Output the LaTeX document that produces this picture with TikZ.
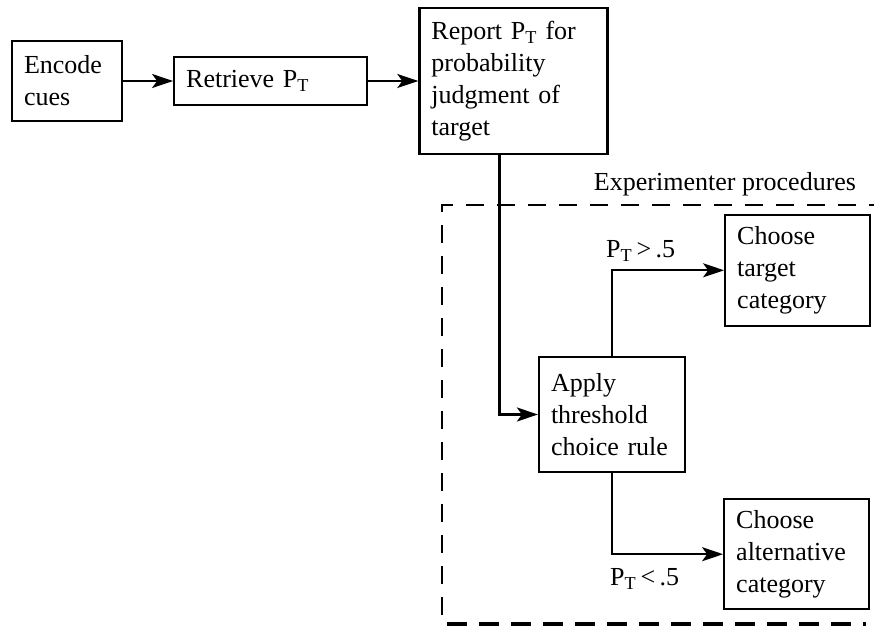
\documentclass[tikz,border=0pt]{standalone}
\usepackage{fontspec}
\setmainfont{Liberation Serif}
\usetikzlibrary{arrows.meta,positioning}
\tikzset{
    %Define standard arrow tip
    >={Stealth[length=21pt,width=14pt,inset=5pt]},
    %Define style for process box
    procbox/.style={draw=black, line width=2.2pt, align=left, inner xsep=12pt, inner ysep=0pt, font=\fontsize{26}{32}\selectfont},
    %Define style for flow arrow
    flow/.style={->, line width=2.2pt},
    %Define style for condition label
    cond/.style={inner sep=2pt, font=\fontsize{26}{32}\selectfont},
}

\begin{document}
\begin{tikzpicture}[node distance=50pt]
        \useasboundingbox (0pt,0pt) rectangle (874pt,-628pt);

    	\node[procbox, text width=86pt, minimum height=80pt](encode) at (67pt,-81pt){Encode\\cues};
    	\node[procbox, text width=169pt, minimum height=48pt, right=of encode](retrieve){Retrieve P\textsubscript{T}};
    	\node[procbox, text width=164pt, minimum height=146pt, right=of retrieve](report){Report P\textsubscript{T} for\\probability\\judgment of\\target};
    	\node[procbox, text width=122pt, minimum height=115pt](apply) at (612pt,-414.5pt){Apply\\threshold\\choice rule};
    	\node[procbox, text width=121pt, minimum height=111pt, above right=29pt and 38pt of apply](target){Choose\\target\\category};
    	\node[procbox, text width=121pt, minimum height=110pt, below right=25pt and 37pt of apply](altern){Choose\\alternative\\category};

        % experimenter frame
        \draw[line width=1.8pt, dash pattern=on 18pt off 13pt] (442pt,-615pt) -- (442pt,-205pt) -- (874pt,-205pt);
        \draw[line width=4.5pt, dash pattern=on 20pt off 12pt] (447pt,-624pt) -- (866pt,-624pt);
        \node[cond](exper) at (725pt,-184pt){Experimenter procedures};

        \draw[flow] (encode) -- (retrieve);
        \draw[flow] (retrieve) -- (report);
        \draw[flow] ([xshift=-14pt]report.south) |- (apply);
        \draw[flow] (apply) |- node[cond, above right, pos=0.5, xshift=-9pt, yshift=6pt](above){P\textsubscript{T}\,>\,.5} (target);
        \draw[flow] (apply) |- node[cond, below right, pos=0.5, xshift=-5pt, yshift=-11pt](below){P\textsubscript{T}\,<\,.5} (altern);
    \end{tikzpicture}
\end{document}
